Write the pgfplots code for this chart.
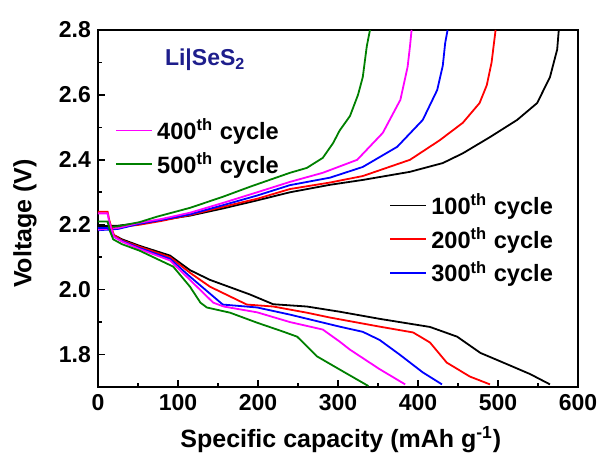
\documentclass[border=0pt]{standalone}
\usepackage{fontspec}
\setmainfont{Liberation Sans}
\usepackage{pgfplots}
\pgfplotsset{compat=1.18}
\definecolor{mag}{RGB}{255,0,255}
\definecolor{grn}{RGB}{0,128,0}
\definecolor{navy}{RGB}{30,30,140}
\newcommand{\ff}{\fontsize{11.5}{13.5}\selectfont\bfseries}
\newcommand{\lf}{\fontsize{11.8}{13.5}\selectfont\bfseries}
\newcommand{\af}{\fontsize{12.5}{14}\selectfont\bfseries}
\pgfplotsset{
  cyc/.style={line width=0.9pt},
  leg/.style={legend style={draw=none, fill=none, font=\lf, row sep=1pt,
      legend cell align=left},
      legend image code/.code={\draw[##1] (0pt,0pt) -- (18pt,0pt);}},
}
\begin{document}
\begin{tikzpicture}
\begin{axis}[
    width=240pt, height=178.5pt, scale only axis,
    xmin=0, xmax=600, ymin=1.7, ymax=2.8,
    xtick={0,100,200,300,400,500,600},
    ytick={1.8,2.0,2.2,2.4,2.6,2.8},
    minor x tick num=1, minor y tick num=1,
    tick align=inside, xtick pos=bottom, ytick pos=left,
    major tick length=3.5pt, minor tick length=2pt,
    axis line style={line width=0.8pt}, every tick/.style={line width=0.8pt, black},
    yticklabel style={/pgf/number format/.cd, fixed, fixed zerofill, precision=1},
    /pgf/number format/assume math mode=true,
    ticklabel style={font=\ff},
    label style={font=\af},
    xlabel={Specific capacity (mAh g\textsuperscript{-1})},
    ylabel={Voltage (V)},
    xlabel style={at={(axis description cs:0.506,-0.148)}, anchor=center},
    ylabel style={at={(axis description cs:-0.152,0.458)}, anchor=center},
    leg, legend style={at={(0.594,0.565)}, anchor=north west},
]
% charge
\addplot[cyc, black] coordinates {(0,2.195)(25,2.197)(52,2.205)(80,2.215)(115,2.228)(156,2.25)(199,2.275)(240,2.30)(290,2.323)(331,2.338)(390,2.363)(431,2.39)(456,2.42)(490,2.47)(524,2.523)(549,2.575)(565,2.655)(574,2.74)(576,2.8)};
\addlegendentry{100\textsuperscript{th} cycle}
\addplot[cyc, red] coordinates {(0,2.19)(25,2.192)(52,2.20)(80,2.212)(115,2.23)(156,2.255)(199,2.28)(240,2.31)(290,2.33)(331,2.35)(390,2.40)(427,2.46)(456,2.514)(477,2.575)(486,2.63)(492,2.70)(497,2.8)};
\addlegendentry{200\textsuperscript{th} cycle}
\addplot[cyc, blue] coordinates {(0,2.183)(25,2.187)(52,2.203)(80,2.215)(115,2.232)(156,2.26)(199,2.29)(240,2.322)(290,2.345)(331,2.378)(374,2.44)(406,2.523)(424,2.615)(431,2.69)(434,2.76)(437,2.8)};
\addlegendentry{300\textsuperscript{th} cycle}
\addplot[cyc, mag, forget plot] coordinates {(0,2.185)(25,2.19)(52,2.206)(80,2.218)(115,2.237)(156,2.267)(199,2.30)(240,2.332)(281,2.36)(324,2.40)(356,2.483)(378,2.585)(387,2.686)(390,2.75)(392,2.8)};
\addplot[cyc, grn, forget plot] coordinates {(0,2.19)(25,2.195)(52,2.208)(74,2.225)(115,2.252)(156,2.286)(190,2.317)(240,2.36)(261,2.375)(281,2.406)(294,2.452)(302,2.49)(315,2.535)(325,2.6)(331,2.655)(336,2.75)(340,2.8)};
% discharge
\addplot[cyc, black, forget plot] coordinates {(0,2.195)(12,2.195)(15,2.185)(20,2.168)(30,2.155)(52,2.135)(90,2.105)(115,2.06)(140,2.03)(190,1.985)(219,1.955)(261,1.948)(302,1.932)(352,1.91)(415,1.885)(449,1.855)(478,1.805)(502,1.78)(540,1.74)(565,1.708)};
\addplot[cyc, red, forget plot] coordinates {(0,2.24)(12,2.24)(14,2.215)(17,2.19)(20,2.168)(30,2.152)(52,2.132)(90,2.10)(115,2.052)(140,2.009)(186,1.954)(219,1.948)(261,1.929)(290,1.914)(352,1.886)(394,1.868)(415,1.837)(436,1.775)(465,1.732)(490,1.708)};
\addplot[cyc, blue, forget plot] coordinates {(0,2.19)(12,2.19)(16,2.178)(20,2.163)(30,2.15)(52,2.128)(90,2.095)(115,2.04)(156,1.954)(199,1.945)(240,1.923)(302,1.886)(331,1.87)(352,1.845)(377,1.80)(406,1.745)(430,1.708)};
\addplot[cyc, mag, forget plot] coordinates {(0,2.235)(12,2.235)(14,2.21)(17,2.185)(20,2.163)(30,2.148)(52,2.125)(90,2.09)(115,2.03)(144,1.96)(157,1.948)(199,1.93)(240,1.90)(281,1.877)(302,1.84)(315,1.815)(352,1.755)(384,1.708)};
\addplot[cyc, grn, forget plot] coordinates {(0,2.21)(12,2.21)(15,2.18)(19,2.155)(30,2.14)(52,2.12)(94,2.071)(115,2.009)(128,1.96)(136,1.945)(165,1.929)(199,1.898)(231,1.871)(249,1.855)(274,1.794)(302,1.754)(338,1.703)};
\node[navy, font=\ff] at (axis cs:134,2.707) {Li|SeS\textsubscript{2}};
\end{axis}
\begin{axis}[
    width=240pt, height=178.5pt, scale only axis, hide axis,
    xmin=0, xmax=1, ymin=0, ymax=1,
    leg, legend style={at={(0.023,0.775)}, anchor=north west},
]
\addlegendimage{cyc, mag}
\addlegendentry{400\textsuperscript{th} cycle}
\addlegendimage{cyc, grn}
\addlegendentry{500\textsuperscript{th} cycle}
\end{axis}
\pgfresetboundingbox
\path[use as bounding box] (-49pt,-39pt) rectangle (252pt,193.5pt);
\end{tikzpicture}
\end{document}
